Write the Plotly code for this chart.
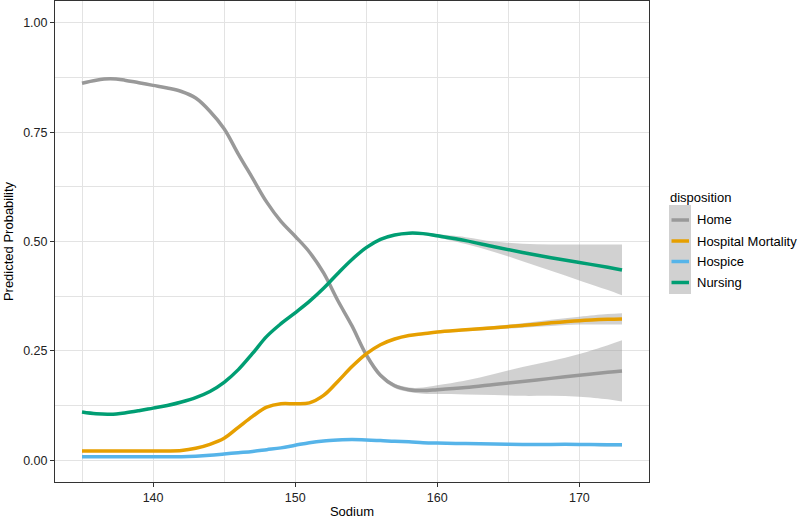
import plotly.graph_objects as go

# ---------------- data ----------------
sodium = [135, 136, 137, 138, 139, 140, 141, 142, 143, 144, 145, 146, 147, 148, 149,
          150, 151, 152, 153, 154, 155, 156, 157, 158, 159, 160, 162, 164, 166, 168,
          170, 172, 173]

home = [0.862, 0.869, 0.872, 0.869, 0.863, 0.857, 0.851, 0.843, 0.828, 0.798, 0.758,
        0.700, 0.645, 0.590, 0.546, 0.512, 0.476, 0.428, 0.365, 0.307, 0.241, 0.194,
        0.170, 0.161, 0.159, 0.161, 0.166, 0.173, 0.180, 0.187, 0.194, 0.201, 0.204]
home_ci = [0.002] * 15 + [0.003, 0.003, 0.003, 0.004, 0.004, 0.005, 0.005, 0.005,
                          0.005, 0.007, 0.010, 0.016, 0.024, 0.033, 0.040, 0.049,
                          0.062, 0.070]

hosp_mort = [0.021, 0.021, 0.021, 0.021, 0.021, 0.021, 0.021, 0.022, 0.027, 0.036,
             0.050, 0.075, 0.100, 0.121, 0.129, 0.129, 0.131, 0.148, 0.180, 0.214,
             0.243, 0.264, 0.277, 0.285, 0.289, 0.293, 0.298, 0.303, 0.308, 0.314,
             0.319, 0.322, 0.323]
hosp_mort_ci = [0.002] * 26 + [0.003, 0.004, 0.005, 0.007, 0.009, 0.012, 0.013]

hospice = [0.008, 0.008, 0.008, 0.008, 0.008, 0.008, 0.008, 0.008, 0.009, 0.011,
           0.014, 0.017, 0.020, 0.024, 0.028, 0.034, 0.040, 0.044, 0.046, 0.047,
           0.046, 0.045, 0.043, 0.042, 0.040, 0.039, 0.038, 0.037, 0.036, 0.036,
           0.036, 0.035, 0.035]
hospice_ci = [0.001] * 26 + [0.002, 0.002, 0.002, 0.003, 0.003, 0.004, 0.004]

nursing = [0.110, 0.106, 0.105, 0.108, 0.113, 0.119, 0.125, 0.133, 0.143, 0.157,
           0.178, 0.207, 0.244, 0.283, 0.312, 0.337, 0.363, 0.393, 0.427, 0.459,
           0.486, 0.505, 0.515, 0.519, 0.518, 0.513, 0.502, 0.488, 0.475, 0.463,
           0.452, 0.441, 0.435]
nursing_ci = [0.002] * 23 + [0.003, 0.003, 0.004, 0.008, 0.012, 0.020, 0.030,
                             0.041, 0.052, 0.058]

series_names = ["Home", "Hospital Mortality", "Hospice", "Nursing"]
series_vals = [home, hosp_mort, hospice, nursing]
series_ci = [home_ci, hosp_mort_ci, hospice_ci, nursing_ci]
series_colors = ["#999999", "#E69F00", "#56B4E9", "#009E73"]

x_ticks = [140, 150, 160, 170]
y_ticks = [0, 0.25, 0.5, 0.75, 1.0]
y_ticktext = ["0.00", "0.25", "0.50", "0.75", "1.00"]

# ---------------- figure ----------------
FONT = "Liberation Sans, Arial, Helvetica, sans-serif"
RIBBON = "rgba(153,153,153,0.45)"
SMOOTH = 1.0

fig = go.Figure()

for name, vals, ci in zip(series_names, series_vals, series_ci):
    lo = [v - c for v, c in zip(vals, ci)]
    hi = [v + c for v, c in zip(vals, ci)]
    fig.add_trace(go.Scatter(x=sodium, y=lo, mode="lines",
                             line=dict(width=0, shape="spline", smoothing=SMOOTH),
                             showlegend=False, hoverinfo="skip"))
    fig.add_trace(go.Scatter(x=sodium, y=hi, mode="lines", fill="tonexty",
                             fillcolor=RIBBON,
                             line=dict(width=0, shape="spline", smoothing=SMOOTH),
                             showlegend=False, hoverinfo="skip"))

for name, vals, col in zip(series_names, series_vals, series_colors):
    fig.add_trace(go.Scatter(x=sodium, y=vals, mode="lines", name=name,
                             line=dict(color=col, width=3.5, shape="spline",
                                       smoothing=SMOOTH),
                             showlegend=False))

# panel geometry (pixels)
L, R, T, B = 55, 649, 1, 482
W, H = 799, 523


def xp(px):
    return (px - L) / (R - L)


def yp(py):
    return (B - py) / (B - T)


shapes = []
annotations = []
# manual legend (ggplot style)
shapes.append(dict(type="rect", xref="paper", yref="paper",
                   x0=xp(669), x1=xp(691), y0=yp(294), y1=yp(205),
                   fillcolor="rgb(209,209,209)", line=dict(width=0), layer="above"))
annotations.append(dict(x=xp(668), y=yp(198), xref="paper", yref="paper",
                        text="disposition", showarrow=False, xanchor="left",
                        yanchor="middle", font=dict(family=FONT, size=13, color="#000")))
key_y = [220, 241, 261.5, 282.5]
for name, col, ky in zip(series_names, series_colors, key_y):
    shapes.append(dict(type="line", xref="paper", yref="paper",
                       x0=xp(671.5), x1=xp(689), y0=yp(ky), y1=yp(ky),
                       line=dict(color=col, width=3.5), layer="above"))
    annotations.append(dict(x=xp(695), y=yp(ky), xref="paper", yref="paper",
                            text=name, showarrow=False, xanchor="left",
                            yanchor="middle",
                            font=dict(family=FONT, size=13, color="#000")))

grid = "#e3e3e3"
fig.update_layout(
    width=W, height=H,
    margin=dict(l=L, r=W - R, t=T, b=H - B),
    paper_bgcolor="white", plot_bgcolor="white",
    font=dict(family=FONT, size=13, color="#000"),
    showlegend=False,
    shapes=shapes, annotations=annotations,
    xaxis=dict(range=[133.1, 174.9], tickvals=x_ticks,
               ticks="outside", ticklen=4, tickcolor="#333", tickwidth=1,
               showline=True, mirror=True, linecolor="#333", linewidth=1,
               showgrid=True, gridcolor=grid, gridwidth=1, zeroline=False,
               minor=dict(tickvals=[135, 145, 155, 165], showgrid=True,
                          gridcolor=grid, gridwidth=1, ticks=""),
               tickfont=dict(family=FONT, size=12.5, color="#222"),
               title=dict(text="Sodium", standoff=2,
                          font=dict(family=FONT, size=13, color="#000"))),
    yaxis=dict(range=[-0.05, 1.05], tickvals=y_ticks, ticktext=y_ticktext,
               ticks="outside", ticklen=4, tickcolor="#333", tickwidth=1,
               showline=True, mirror=True, linecolor="#333", linewidth=1,
               showgrid=True, gridcolor=grid, gridwidth=1, zeroline=False,
               minor=dict(tickvals=[0.125, 0.375, 0.625, 0.875], showgrid=True,
                          gridcolor=grid, gridwidth=1, ticks=""),
               tickfont=dict(family=FONT, size=12.5, color="#222"),
               title=dict(text="Predicted Probability", standoff=6,
                          font=dict(family=FONT, size=13, color="#000"))),
)

fig.write_html("out.html",
               config={"displayModeBar": False},
               post_script="document.body.style.margin='0px';"
                           "document.body.style.overflow='hidden';")
